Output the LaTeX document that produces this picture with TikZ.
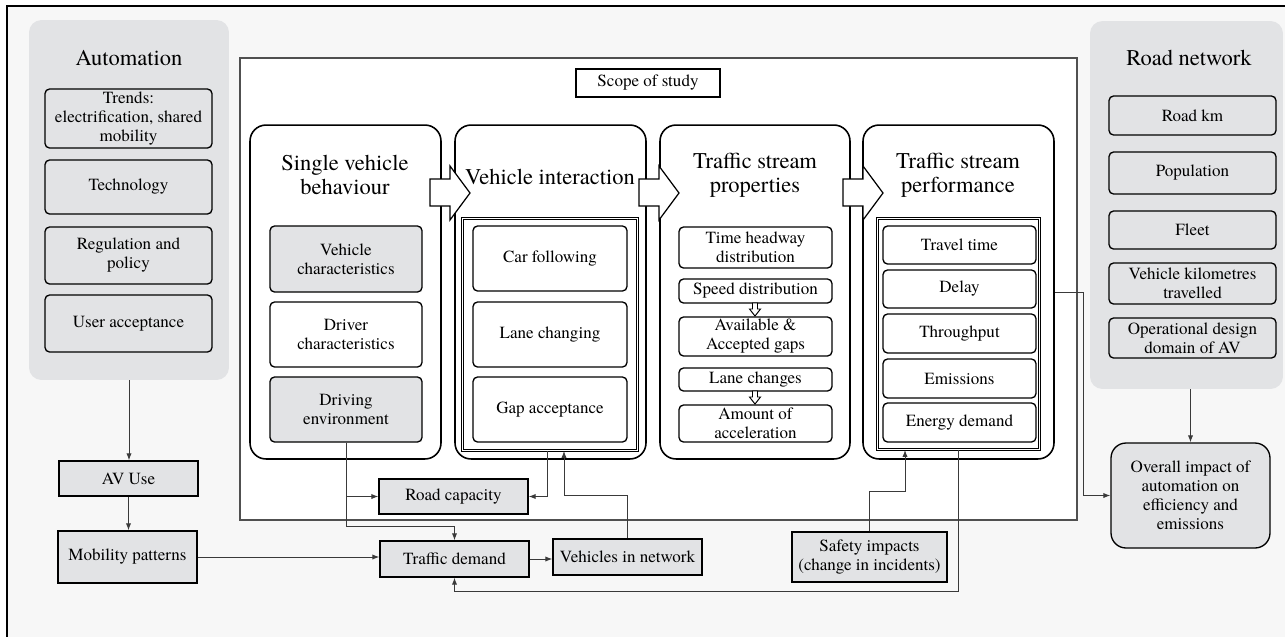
\documentclass[tikz,border=0pt]{standalone}
\usepackage{fontspec}
\newfontfamily\diagfont{texgyretermes-regular.otf}
\usetikzlibrary{arrows.meta}
\definecolor{bggray}{HTML}{F7F7F7}
\definecolor{panelgray}{HTML}{E2E3E5}
\definecolor{linegray}{HTML}{3A3A3A}
\definecolor{scopegray}{HTML}{505050}
\begin{document}
\begin{tikzpicture}[x=0.02cm, y=-0.02cm,
  txt/.style={font=\diagfont\fontsize{9.7}{10.8}\selectfont, align=center},
  heading/.style={font=\diagfont\fontsize{12.8}{13.4}\selectfont, align=center},
  panel/.style={fill=panelgray, rounded corners=0.25cm, inner sep=0pt},
  graybox/.style={txt, draw, fill=panelgray, rounded corners=0.09cm, inner sep=0pt, line width=0.75pt},
  whitebox/.style={txt, draw, fill=white, rounded corners=0.09cm, inner sep=0pt, line width=0.75pt},
  flatbox/.style={txt, draw, fill=panelgray, inner sep=0pt, line width=0.75pt},
  stage/.style={draw, fill=white, rounded corners=0.32cm, inner sep=0pt, line width=0.9pt,
    minimum height=6.68cm},
  frametwo/.style={draw, double, double distance=1.1pt, line width=0.55pt, inner sep=0pt},
  conn/.style={draw=linegray, line width=0.55pt, -{Latex[length=4pt,width=3pt]}}]
  \useasboundingbox (0,0) rectangle (1285,637);
  \fill[white] (0,0) rectangle (1285,637);
  \fill[bggray] (7,6) rectangle (1285,637);
  \draw[line width=0.6pt] (1285,6) -- (7,6) -- (7,637);

  % side panels
  \node[panel, minimum width=4cm, minimum height=7.2cm] (autopanel) at (129,200) {};
  \node[heading] (autotitle) at (129,58) {Automation};
  \node[graybox, minimum width=3.34cm, minimum height=1.18cm] (trends) at (128.5,118.5) {Trends:\\electrification, shared\\mobility};
  \node[graybox, minimum width=3.34cm, minimum height=1.08cm] (techno) at (128.5,187) {Technology};
  \node[graybox, minimum width=3.34cm, minimum height=1.14cm] (regul) at (128.5,255.5) {Regulation and\\policy};
  \node[graybox, minimum width=3.34cm, minimum height=1.14cm] (useracc) at (128.5,323.5) {User acceptance};

  \node[panel, minimum width=3.86cm, minimum height=7.36cm] (roadpanel) at (1186.5,205) {};
  \node[heading] (roadtitle) at (1189,58) {Road network};
  \node[graybox, minimum width=3.34cm, minimum height=0.78cm] (roadkm) at (1192.5,115.5) {Road km};
  \node[graybox, minimum width=3.34cm, minimum height=0.84cm] (popul) at (1192.5,173) {Population};
  \node[graybox, minimum width=3.34cm, minimum height=0.76cm] (fleet) at (1192.5,230) {Fleet};
  \node[graybox, minimum width=3.34cm, minimum height=0.82cm] (vkt) at (1192.5,283.5) {Vehicle kilometres\\travelled};
  \node[graybox, minimum width=3.34cm, minimum height=0.80cm] (odd) at (1192.5,338) {Operational design\\domain of AV};

  % scope of study
  \node[draw=scopegray, fill=white, line width=0.7pt, inner sep=0pt, minimum width=16.74cm, minimum height=9.24cm] (scope) at (658.5,289) {};
  \node[txt, draw, fill=white, line width=0.7pt, inner sep=0pt, minimum width=2.88cm, minimum height=0.56cm] (scopelabel) at (648,83) {Scope of study};

  \node[stage, minimum width=3.82cm] (svb) at (345.5,292) {};
  \node[stage, minimum width=3.82cm] (vi) at (550.5,292) {};
  \node[stage, minimum width=3.80cm] (tsp) at (755,292) {};
  \node[stage, minimum width=3.82cm] (tsperf) at (958.5,292) {};

  % block arrows between the stages
  \foreach \ax in {430,639,843}
    \draw[fill=white, line width=0.7pt] (\ax,179) -- (\ax+20,179) -- (\ax+20,166) -- (\ax+40,193)
      -- (\ax+20,220) -- (\ax+20,206) -- (\ax,206) -- cycle;

  \node[heading] (svbtitle) at (345,175) {Single vehicle\\behaviour};
  \node[heading] (vititle) at (550,177) {Vehicle interaction};
  \node[heading] (tsptitle) at (755,175) {Traffic stream\\properties};
  \node[heading] (tsperftitle) at (958,175) {Traffic stream\\performance};

  \node[graybox, minimum width=3.04cm, minimum height=1.32cm] (vehchar) at (346,259) {Vehicle\\characteristics};
  \node[whitebox, minimum width=3.04cm, minimum height=1.30cm] (drvchar) at (346,334.5) {Driver\\characteristics};
  \node[graybox, minimum width=3.04cm, minimum height=1.30cm] (drvenv) at (346,409.5) {Driving\\environment};

  \node[frametwo, minimum width=3.5cm, minimum height=4.64cm] (viframe) at (550,334.5) {};
  \node[whitebox, minimum width=3.08cm, minimum height=1.30cm] (carfol) at (550,258.5) {Car following};
  \node[whitebox, minimum width=3.08cm, minimum height=1.30cm] (lanechg) at (550,334.5) {Lane changing};
  \node[whitebox, minimum width=3.08cm, minimum height=1.30cm] (gapacc) at (550,409.5) {Gap acceptance};

  \node[whitebox, minimum width=3.06cm, minimum height=0.82cm] (headway) at (755.5,247.5) {Time headway\\distribution};
  \node[whitebox, minimum width=3.06cm, minimum height=0.48cm] (speed) at (755.5,291) {Speed distribution};
  \node[whitebox, minimum width=3.06cm, minimum height=0.78cm] (gaps) at (755.5,336.5) {Available \&\\Accepted gaps};
  \node[whitebox, minimum width=3.06cm, minimum height=0.46cm] (lanes) at (755.5,379.5) {Lane changes};
  \node[whitebox, minimum width=3.06cm, minimum height=0.74cm] (accel) at (755.5,423.5) {Amount of\\acceleration};
  \foreach \ay in {303,391}
    \draw[fill=white, line width=0.55pt] (752.5,\ay) -- (757.5,\ay) -- (757.5,\ay+6) -- (760.5,\ay+6)
      -- (755,\ay+13) -- (749.5,\ay+6) -- (752.5,\ay+6) -- cycle;

  \node[frametwo, minimum width=3.24cm, minimum height=4.62cm] (perfframe) at (958.5,334) {};
  \node[whitebox, minimum width=3.06cm, minimum height=0.76cm] (travel) at (959.5,245) {Travel time};
  \node[whitebox, minimum width=3.06cm, minimum height=0.76cm] (delay) at (959.5,289) {Delay};
  \node[whitebox, minimum width=3.06cm, minimum height=0.78cm] (thruput) at (959.5,333.5) {Throughput};
  \node[whitebox, minimum width=3.06cm, minimum height=0.78cm] (emiss) at (959.5,378.5) {Emissions};
  \node[whitebox, minimum width=3.06cm, minimum height=0.78cm] (energy) at (959.5,422.5) {Energy demand};

  % outside the scope
  \node[flatbox, minimum width=2.78cm, minimum height=0.70cm] (avuse) at (128.5,478.5) {AV Use};
  \node[flatbox, minimum width=2.78cm, minimum height=1.04cm] (mobility) at (127.5,557) {Mobility patterns};
  \node[flatbox, minimum width=2.98cm, minimum height=0.70cm] (roadcap) at (453.5,496.5) {Road capacity};
  \node[flatbox, minimum width=2.98cm, minimum height=0.72cm] (trafdem) at (454.5,559) {Traffic demand};
  \node[flatbox, minimum width=2.98cm, minimum height=0.72cm] (vehnet) at (627.5,557) {Vehicles in network};
  \node[flatbox, minimum width=3.10cm, minimum height=1.00cm] (safety) at (869.5,557) {Safety impacts\\(change in incidents)};
  \node[graybox, rounded corners=0.3cm, minimum width=3.18cm, minimum height=2.10cm] (overall) at (1190.5,495.5) {Overall impact of\\automation on\\efficiency and\\emissions};

  % connectors
  \draw[conn] (autopanel.south) -- (autopanel.south |- avuse.north);
  \draw[conn] (avuse.south) -- (avuse.south |- mobility.north);
  \draw[conn] (mobility.east) -- (mobility.east -| trafdem.west);
  \draw[conn] (drvenv.south) -- ++(0,84) -| (trafdem.north);
  \draw[conn] (drvenv.south |- roadcap.west) -- (roadcap.west);
  \draw[conn] ([xshift=-0.06cm]viframe.south) |- (roadcap.east);
  \draw[conn] (vehnet.north) -- ++(0,-43) -| ([xshift=0.28cm]viframe.south);
  \draw[conn] (trafdem.east) -- (trafdem.east -| vehnet.west);
  \draw[conn] (safety.north) -- ++(0,-40) -| ([xshift=-1.07cm]perfframe.south);
  \draw[conn] (perfframe.south) -- ++(0,142) -| (trafdem.south);
  \draw[conn] (tsperf.east) -- ++(29,0) |- (overall.west);
  \draw[conn] (overall.north |- roadpanel.south) -- (overall.north);
\end{tikzpicture}
\end{document}
